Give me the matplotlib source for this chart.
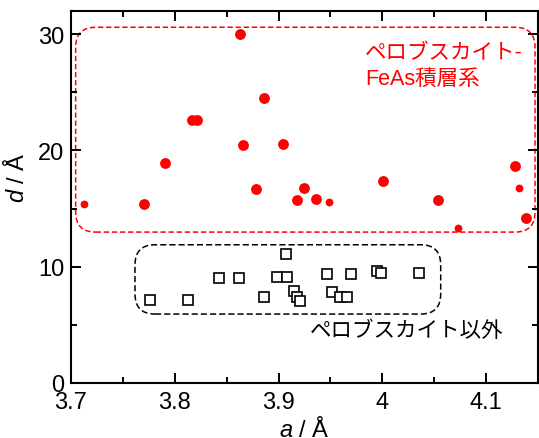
import matplotlib
matplotlib.use('Agg')
import matplotlib.pyplot as plt
from matplotlib.patches import FancyBboxPatch
from matplotlib.ticker import MultipleLocator

plt.rcParams['font.family'] = ['Liberation Sans', 'Noto Sans CJK JP']
plt.rcParams['mathtext.fontset'] = 'custom'
plt.rcParams['mathtext.it'] = 'Liberation Sans:italic'
plt.rcParams['mathtext.rm'] = 'Liberation Sans'

# perovskite-type FeAs layered compounds (a, d in angstrom)
feas_a = [3.770, 3.7906, 3.8162, 3.821, 3.8625, 3.886, 3.8657, 3.904,
          3.8786, 3.918, 3.925, 3.9366, 4.0007, 4.054, 4.128, 4.1385]
feas_d = [15.4, 18.9, 22.6, 22.6, 30.0, 24.55, 20.45, 20.6,
          16.65, 15.75, 16.75, 15.8, 17.35, 15.75, 18.7, 14.2]
feas_small_a = [3.7126, 3.9485, 4.0728, 4.1317]
feas_small_d = [15.4, 15.6, 13.35, 16.75]

# other compounds
other_a = [3.7757, 3.8123, 3.843, 3.8615, 3.886, 3.8987, 3.9078, 3.907,
           3.915, 3.9175, 3.9207, 3.9466, 3.952, 3.9595, 3.966, 3.970,
           3.9951, 3.999, 4.0356]
other_d = [7.14, 7.14, 9.0, 9.03, 7.42, 9.08, 9.08, 11.09,
           7.94, 7.42, 7.02, 9.37, 7.86, 7.42, 7.36, 9.37,
           9.66, 9.46, 9.43]

label_feas = 'ペロブスカイト-\nFeAs積層系'
label_other = 'ペロブスカイト以外'

fig = plt.figure(figsize=(5.39, 4.39), dpi=100)
ax = fig.add_axes([0.1317, 0.1253, 0.8663, 0.8474])

ax.plot(other_a, other_d, 's', ms=6.5, mfc='white', mec='black', mew=1.2)
ax.plot(feas_a, feas_d, 'o', ms=7.8, color='red', mec='none')
ax.plot(feas_small_a, feas_small_d, 'o', ms=5.6, color='red', mec='none')

ax.set_xlim(3.7, 4.15)
ax.set_ylim(0, 32)
ax.xaxis.set_major_locator(MultipleLocator(0.1))
ax.xaxis.set_minor_locator(MultipleLocator(0.05))
ax.yaxis.set_major_locator(MultipleLocator(10))
ax.yaxis.set_minor_locator(MultipleLocator(5))
ax.xaxis.set_major_formatter(plt.FuncFormatter(lambda v, p: ('%.1f' % v).rstrip('0').rstrip('.')))
ax.tick_params(which='both', direction='in', top=True, right=True, width=1.4)
ax.tick_params(which='major', length=7.5, labelsize=17)
ax.tick_params(which='minor', length=4)
ax.tick_params(axis='x', pad=6)
ax.tick_params(axis='y', pad=5)
for s in ax.spines.values():
    s.set_linewidth(1.5)

ax.set_xlabel('$a$ / Å', fontsize=17)
ax.set_ylabel('$d$ / Å', fontsize=17)
ax.xaxis.set_label_coords(0.5, -0.088)
ax.yaxis.set_label_coords(-0.09, 0.555)

# rounded boxes, corner radius kept circular on screen
fig.canvas.draw()
bb = ax.get_window_extent()
asp = (32 / bb.height) / (0.45 / bb.width)
r = 20 * 0.45 / bb.width


def rounded_box(x0, y0, x1, y1, color, dashes):
    p = FancyBboxPatch((x0, y0), x1 - x0, y1 - y0,
                       boxstyle='round,pad=0,rounding_size=%f' % r,
                       mutation_aspect=asp, fill=False, ec=color, lw=1.1,
                       linestyle=(0, dashes), clip_on=False)
    ax.add_patch(p)


rounded_box(3.7045, 12.98, 4.1472, 30.6, 'red', (3.5, 1.8))
rounded_box(3.7617, 5.93, 4.0563, 11.89, 'black', (4, 2))

ax.text(3.9834, 27.3, label_feas, color='red', fontsize=15.5,
        ha='left', va='center', linespacing=1.3)
ax.text(3.930, 4.5, label_other, color='black', fontsize=15.5,
        ha='left', va='center')

fig.savefig('out.png', dpi=100)
